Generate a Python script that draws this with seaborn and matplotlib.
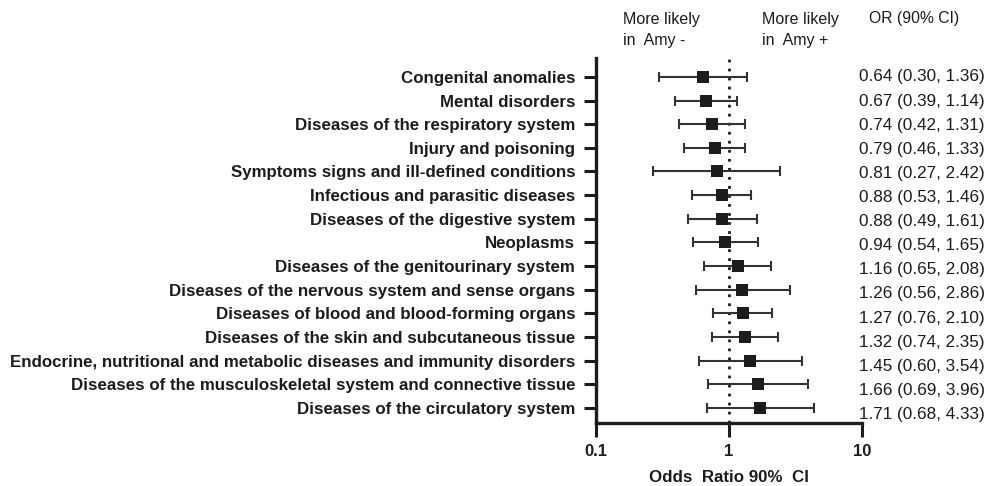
import numpy as np
import pandas as pd
import matplotlib
matplotlib.use("Agg")
import matplotlib.pyplot as plt
import seaborn as sns

categories = [
    "Congenital anomalies",
    "Mental disorders",
    "Diseases of the respiratory system",
    "Injury and poisoning",
    "Symptoms signs and ill-defined conditions",
    "Infectious and parasitic diseases",
    "Diseases of the digestive system",
    "Neoplasms",
    "Diseases of the genitourinary system",
    "Diseases of the nervous system and sense organs",
    "Diseases of blood and blood-forming organs",
    "Diseases of the skin and subcutaneous tissue",
    "Endocrine, nutritional and metabolic diseases and immunity disorders",
    "Diseases of the musculoskeletal system and connective tissue",
    "Diseases of the circulatory system",
]
odds_ratio = [0.64, 0.67, 0.74, 0.79, 0.81, 0.88, 0.88, 0.94, 1.16, 1.26, 1.27, 1.32, 1.45, 1.66, 1.71]
ci_low = [0.30, 0.39, 0.42, 0.46, 0.27, 0.53, 0.49, 0.54, 0.65, 0.56, 0.76, 0.74, 0.60, 0.69, 0.68]
ci_high = [1.36, 1.14, 1.31, 1.33, 2.42, 1.46, 1.61, 1.65, 2.08, 2.86, 2.10, 2.35, 3.54, 3.96, 4.33]
x_ticks = [0.1, 1, 10]
x_tick_labels = ["0.1", "1", "10"]

df = pd.DataFrame({"category": categories, "OR": odds_ratio,
                   "lo": ci_low, "hi": ci_high})
df["pos"] = np.arange(len(df))

sns.set_theme(style="ticks")
plt.rcParams["font.family"] = ["Liberation Sans", "DejaVu Sans"]

fig = plt.figure(figsize=(9.91, 4.86), dpi=100)
ax = fig.add_axes([596 / 991, 1 - 423 / 486, (862 - 596) / 991, (423 - 58) / 486])

ink = "#1c1c1c"
ax.errorbar(df["OR"], df["pos"],
            xerr=[df["OR"] - df["lo"], df["hi"] - df["OR"]],
            fmt="none", ecolor="#333333", elinewidth=1.5, capsize=3.3, capthick=1.5, zorder=2)
sns.scatterplot(data=df, x="OR", y="pos", marker="s", s=78, color=ink,
                edgecolor=ink, linewidth=0, ax=ax, zorder=3, legend=False)
ax.axvline(1, color=ink, linestyle=(0, (1, 2.25)), linewidth=2.0, zorder=1)

ax.set_xscale("log")
ax.set_xlim(0.1, 10)
ax.set_ylim(14.64, -0.80)
ax.set_xticks(x_ticks)
ax.set_xticklabels(x_tick_labels, fontsize=12, fontweight="bold", color=ink)
ax.xaxis.set_minor_locator(matplotlib.ticker.NullLocator())
ax.set_yticks(df["pos"])
ax.set_yticklabels(df["category"], fontsize=12.2, fontweight="bold", color=ink)
ax.tick_params(axis="y", length=9, width=2.2, color=ink, pad=6)
ax.tick_params(axis="x", length=10, width=2.2, color=ink, pad=5)
for s in ["left", "bottom"]:
    ax.spines[s].set_linewidth(2.4)
    ax.spines[s].set_color(ink)
for s in ["top", "right"]:
    ax.spines[s].set_visible(False)
ax.set_xlabel("Odds  Ratio 90%  CI", fontsize=12.2, fontweight="bold", color=ink, labelpad=8)
ax.set_ylabel("")

# OR text column
for i, (o, l, h) in enumerate(zip(odds_ratio, ci_low, ci_high)):
    y_fig = 1 - (77 + 24.1 * i) / 486
    fig.text(859 / 991, y_fig, f"{o:.2f} ({l:.2f}, {h:.2f})", fontsize=12.3,
             color=ink, va="center", ha="left")

fig.text(623 / 991, 1 - 30 / 486, "More likely\nin  Amy -", fontsize=11.5, color=ink,
         va="center", ha="left", linespacing=1.5)
fig.text(762 / 991, 1 - 30 / 486, "More likely\nin  Amy +", fontsize=11.5, color=ink,
         va="center", ha="left", linespacing=1.5)
fig.text(869 / 991, 1 - 18 / 486, "OR (90% CI)", fontsize=11.3, color=ink,
         va="center", ha="left")

fig.savefig("out.png", dpi=100)
